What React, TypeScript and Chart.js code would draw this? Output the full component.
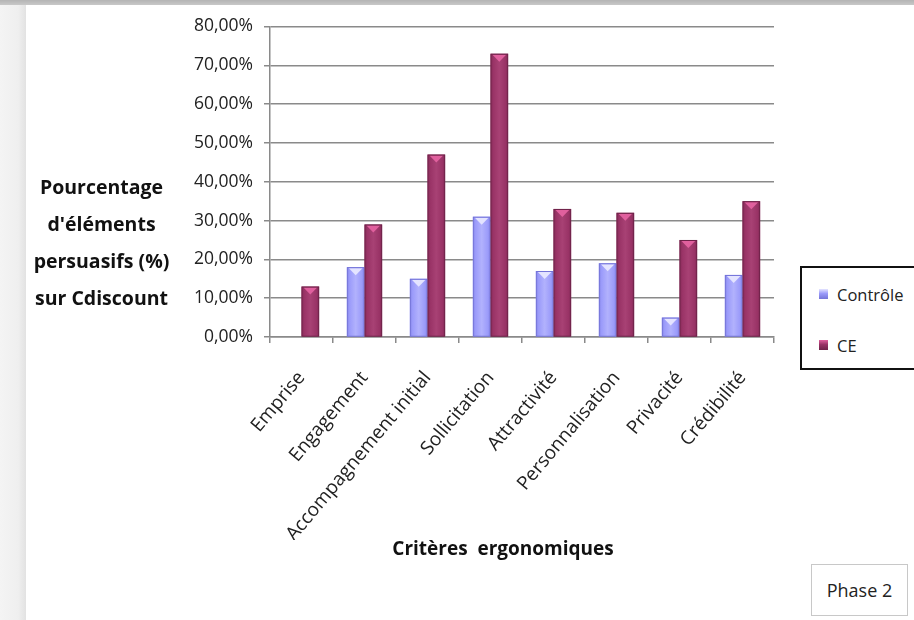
import React, { useEffect, useRef } from "react";
import { Chart, registerables } from "chart.js";

Chart.register(...registerables);

const categories = [
  "Emprise",
  "Engagement",
  "Accompagnement initial",
  "Sollicitation",
  "Attractivité",
  "Personnalisation",
  "Privacité",
  "Crédibilité",
];
const seriesNames = ["Contrôle", "CE"];
const controle = [0, 18, 15, 31, 17, 19, 5, 16];
const ce = [13, 29, 47, 73, 33, 32, 25, 35];
const yTicks = [0, 10, 20, 30, 40, 50, 60, 70, 80];

const FONT = "'Open Sans', 'DejaVu Sans', sans-serif";
const COLORS = [
  { fill: "#9b9bfa", edge: "#7474d8", light: "#c4c4ff", tri: "#e4e4ff" },
  { fill: "#993366", edge: "#6e2248", light: "#b44d80", tri: "#e0609e" },
];

const bevelPlugin = {
  id: "bevel",
  afterDatasetsDraw(chart: any) {
    const ctx = chart.ctx;
    chart.data.datasets.forEach((ds: any, di: number) => {
      const meta = chart.getDatasetMeta(di);
      const c = COLORS[di];
      meta.data.forEach((bar: any) => {
        const { x, y, base, width } = bar.getProps(["x", "y", "base", "width"], true);
        const h = base - y;
        if (h < 1) return;
        const l = x - width / 2;
        const r = x + width / 2;
        ctx.save();
        const g = ctx.createLinearGradient(l, 0, r, 0);
        g.addColorStop(0, c.edge);
        g.addColorStop(0.15, c.fill);
        g.addColorStop(0.5, c.light);
        g.addColorStop(0.85, c.fill);
        g.addColorStop(1, c.edge);
        ctx.globalAlpha = 0.55;
        ctx.fillStyle = g;
        ctx.fillRect(l + 1, y + 1, width - 2, h - 1);
        ctx.globalAlpha = 1;
        const th = Math.min(8, h - 1);
        ctx.beginPath();
        ctx.moveTo(l + 2, y + 1);
        ctx.lineTo(r - 2, y + 1);
        ctx.lineTo(x, y + th);
        ctx.closePath();
        ctx.fillStyle = c.tri;
        ctx.fill();
        ctx.strokeStyle = c.edge;
        ctx.lineWidth = 1;
        ctx.strokeRect(l + 0.5, y + 0.5, width - 1, h - 0.5);
        ctx.restore();
      });
    });
  },
};

function BarChart() {
  const ref = useRef<HTMLCanvasElement | null>(null);
  useEffect(() => {
    if (!ref.current) return;
    const chart = new Chart(ref.current, {
      type: "bar",
      data: {
        labels: categories,
        datasets: [
          {
            label: seriesNames[0],
            data: controle,
            backgroundColor: COLORS[0].fill,
            borderWidth: 0,
            categoryPercentage: 0.56,
            barPercentage: 1,
          },
          {
            label: seriesNames[1],
            data: ce,
            backgroundColor: COLORS[1].fill,
            borderWidth: 0,
            categoryPercentage: 0.56,
            barPercentage: 1,
          },
        ],
      },
      options: {
        animation: false,
        responsive: false,
        maintainAspectRatio: false,
        layout: { padding: { top: 11, right: 16, left: 0, bottom: 0 } },
        plugins: {
          legend: { display: false },
          tooltip: { enabled: false },
          title: { display: false },
        },
        scales: {
          x: {
            offset: true,
            afterFit: (s: any) => {
              s.height = 203;
            },
            border: { display: true, color: "#8a8a8a", width: 1.5 },
            grid: {
              display: true,
              offset: true,
              drawOnChartArea: false,
              drawTicks: true,
              tickLength: 6,
              color: "#8a8a8a",
              lineWidth: 1.5,
            },
            ticks: {
              minRotation: 50,
              maxRotation: 50,
              autoSkip: false,
              padding: 24,
              color: "#222",
              font: { family: FONT, size: 19 },
            },
          },
          y: {
            min: 0,
            max: 80,
            afterFit: (s: any) => {
              s.width = 90;
            },
            afterBuildTicks: (s: any) => {
              s.ticks = yTicks.map((v) => ({ value: v }));
            },
            border: { display: true, color: "#8a8a8a", width: 1.5 },
            grid: {
              color: "#8a8a8a",
              lineWidth: 1.5,
              tickLength: 6,
            },
            ticks: {
              padding: 11,
              color: "#222",
              font: { family: FONT, size: 17.5 },
              callback: (v: any) => Number(v).toFixed(2).replace(".", ",") + "%",
            },
          },
        },
      },
      plugins: [bevelPlugin],
    });
    return () => chart.destroy();
  }, []);
  return (
    <canvas
      ref={ref}
      width={610}
      height={535}
      style={{ position: "absolute", left: 180, top: 5, width: 610, height: 535 }}
    />
  );
}

export default function App() {
  const titleStyle: React.CSSProperties = {
    position: "absolute",
    fontFamily: FONT,
    fontWeight: 700,
    color: "#111",
  };
  return (
    <div
      style={{
        position: "fixed",
        left: 0,
        top: 0,
        width: 914,
        height: 620,
        overflow: "hidden",
        background: "#ffffff",
      }}
    >
      <div
        style={{
          position: "absolute",
          left: 0,
          top: 0,
          width: 26,
          height: 620,
          background: "linear-gradient(to right, #f4f4f4 0%, #efefef 70%, #e2e2e2 100%)",
        }}
      />
      <BarChart />
      <div
        style={{
          position: "absolute",
          left: 0,
          top: 0,
          width: 914,
          height: 5,
          background: "linear-gradient(to bottom, #b4b4b4 0%, #c8c8c8 100%)",
        }}
      />
      <div
        style={{
          ...titleStyle,
          fontSize: 19.5,
          left: 10,
          top: 168,
          width: 183,
          textAlign: "center",
          lineHeight: "37px",
        }}
      >
        Pourcentage
        <br />
        d'éléments
        <br />
        persuasifs (%)
        <br />
        sur Cdiscount
      </div>
      <div
        style={{
          ...titleStyle,
          fontSize: 19,
          left: 368,
          top: 535,
          width: 270,
          textAlign: "center",
          whiteSpace: "pre",
        }}
      >
        {"Critères  ergonomiques"}
      </div>
      <div
        style={{
          position: "absolute",
          left: 800,
          top: 266,
          width: 130,
          height: 100,
          border: "2px solid #111",
          background: "#fff",
          fontFamily: FONT,
          fontSize: 16.5,
          color: "#222",
        }}
      >
        {seriesNames.map((n, i) => (
          <div
            key={n}
            style={{
              position: "absolute",
              left: 17,
              top: i === 0 ? 14 : 65,
              display: "flex",
              alignItems: "center",
              height: 24,
            }}
          >
            <span
              style={{
                display: "inline-block",
                width: 9,
                height: 10,
                marginRight: 9,
                background: `linear-gradient(to bottom, ${COLORS[i].tri} 0%, ${COLORS[i].fill} 45%, ${COLORS[i].edge} 100%)`,
              }}
            />
            {n}
          </div>
        ))}
      </div>
      <div
        style={{
          position: "absolute",
          left: 811,
          top: 564,
          width: 95,
          height: 50,
          border: "1px solid #c8c8c8",
          fontFamily: FONT,
          fontSize: 18,
          color: "#222",
          display: "flex",
          alignItems: "center",
          justifyContent: "center",
        }}
      >
        Phase 2
      </div>
    </div>
  );
}
